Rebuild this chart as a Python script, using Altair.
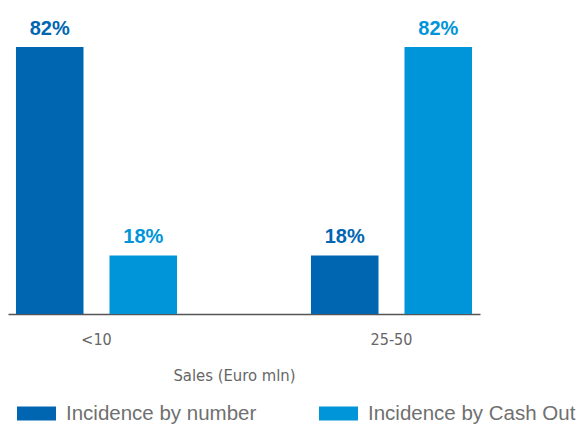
import altair as alt
import pandas as pd

groups = ["<10", "<10", "25-50", "25-50"]
series = ["Incidence by number", "Incidence by Cash Out", "Incidence by number", "Incidence by Cash Out"]
values = [82, 18, 18, 82]
series_order = ["Incidence by number", "Incidence by Cash Out"]
colors = ["#0066B2", "#0095D8"]

df = pd.DataFrame({"group": groups, "series": series, "value": values})

color_scale = alt.Scale(domain=series_order, range=colors)
cond_font = "DejaVu Sans Condensed, Roboto, sans-serif"

base = alt.Chart(df).encode(
    x=alt.X(
        "group:N",
        sort=["<10", "25-50"],
        scale=alt.Scale(paddingInner=0.454, paddingOuter=0.027),
        axis=alt.Axis(
            title="Sales (Euro mln)",
            labelAngle=0,
            ticks=False,
            domainColor="#555555",
            domainWidth=1.5,
            labelFont=cond_font,
            labelFontSize=16,
            labelColor="#666666",
            labelPadding=17,
            titleFont=cond_font,
            titleFontSize=16.5,
            titleFontWeight="normal",
            titleColor="#666666",
            titleX=226,
            titleY=53,
            titleAlign="center",
            titleBaseline="top",
        ),
    ),
    xOffset=alt.XOffset("series:N", sort=series_order,
                        scale=alt.Scale(paddingInner=0.278, paddingOuter=0)),
    y=alt.Y("value:Q", scale=alt.Scale(domain=[0, 94]), axis=None),
    color=alt.Color(
        "series:N",
        scale=color_scale,
        sort=series_order,
        legend=alt.Legend(
            title=None,
            orient="none",
            legendX=9,
            legendY=386,
            direction="horizontal",
            columns=2,
            gridAlign="all",
            columnPadding=45,
            symbolType="M-1,-0.36L1,-0.36L1,0.36L-1,0.36Z",
            symbolSize=1521,
            symbolStrokeWidth=0,
            symbolOpacity=1,
            labelFont="Liberation Sans",
            labelFontSize=20.5,
            labelColor="#707070",
            labelOffset=10,
            labelLimit=400,
            padding=0,
        ),
    ),
)

bars = base.mark_bar()
labels = base.mark_text(dy=-12, baseline="alphabetic", fontWeight="bold",
                        fontSize=20, font="Liberation Sans").transform_calculate(
    label="datum.value + '%'"
).encode(text="label:N")

chart = (bars + labels).properties(
    width=472,
    height=306,
    autosize=alt.AutoSizeParams(type="none"),
    padding={"left": 0, "top": 0, "right": 97, "bottom": 110},
).configure_view(stroke=None)

chart.save("out.html", embed_options={"renderer": "svg", "actions": False})
